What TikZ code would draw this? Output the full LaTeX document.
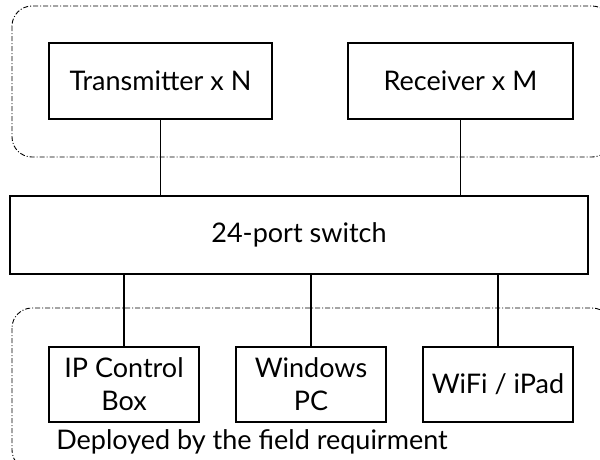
\documentclass[tikz,border=0pt]{standalone}
\usepackage{fontspec}
\setmainfont{Lato}

\begin{document}
\begin{tikzpicture}
[x=1pt, y=-1pt, font=\fontsize{27}{33}\selectfont,
box/.style={draw, line width=1.2pt, inner sep=0pt, align=center},
group/.style={draw, line width=0.9pt, rounded corners=20pt, dash pattern=on 5pt off 2pt on 1pt off 2pt},
link/.style={line width=1.5pt}]
\useasboundingbox (0,0) rectangle (600,459);
% groups
\draw[group] (12,6) rectangle (612,157);
\draw[group] (12,308) rectangle (612,470);
% top row
\node[box, minimum width=223pt, minimum height=76pt] (transmitter) at (160.5,81) {Transmitter x N};
\node[box, minimum width=225pt, minimum height=76pt] (receiver) at (460.5,81) {Receiver x M};
% switch
\node[box, minimum width=578pt, minimum height=78pt] (switch) at (299,235) {24-port switch};
% bottom row
\node[box, minimum width=150pt, minimum height=75pt] (ipbox) at (124,384.5) {IP Control\\Box};
\node[box, minimum width=150pt, minimum height=75pt] (winpc) at (311,384.5) {Windows\\PC};
\node[box, minimum width=150pt, minimum height=75pt] (wifi) at (498,384.5) {WiFi / iPad};
\node (field) at (252,442) {Deployed by the field requirment};
% links
\draw[link] (transmitter.south) -- (transmitter.south |- switch.north);
\draw[link] (receiver.south) -- (receiver.south |- switch.north);
\draw[link] (ipbox.north) -- (ipbox.north |- switch.south);
\draw[link] (winpc.north) -- (winpc.north |- switch.south);
\draw[link] (wifi.north) -- (wifi.north |- switch.south);
\end{tikzpicture}
\end{document}
